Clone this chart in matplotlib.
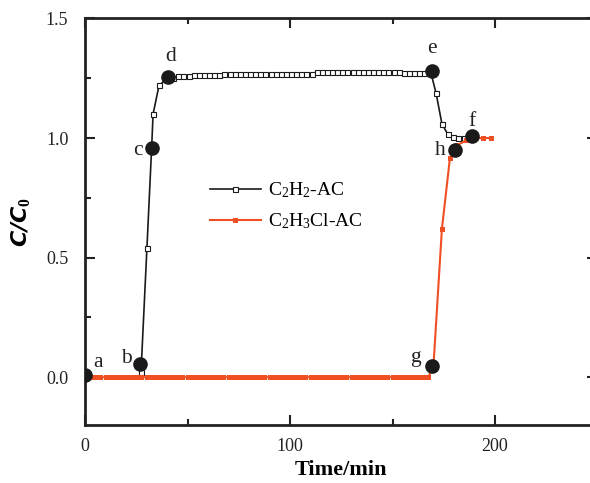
import matplotlib.pyplot as plt
from matplotlib.ticker import MultipleLocator

plt.rcParams["font.family"] = "Liberation Serif"
plt.rcParams["mathtext.fontset"] = "custom"
plt.rcParams["mathtext.rm"] = "Liberation Serif"
plt.rcParams["mathtext.it"] = "Liberation Serif:italic"
plt.rcParams["mathtext.bf"] = "Liberation Serif:bold"

# C2H2 breakthrough (black, open squares)
c2h2_t = [27.3,
          30.2, 32.5, 33.2, 36.1, 39.5,
          43, 45.5, 48, 50.5, 53, 55.5, 58, 60.5, 63, 65.5, 68, 70.5, 73, 75.5,
          78, 80.5, 83, 85.5, 88, 90.5, 93, 95.5, 98, 100.5, 103, 105.5, 108,
          110.5, 113, 115.5, 118, 120.5, 123, 125.5, 128, 130.5, 133, 135.5,
          138, 140.5, 143, 145.5, 148, 150.5, 153, 155.5, 158, 160.5, 163,
          165.5, 168.5, 171.2, 174.1, 177, 179.5, 182, 185, 188]
c2h2_y = [0.02,
          0.54, 0.96, 1.10, 1.22, 1.245,
          1.25, 1.26, 1.26, 1.26, 1.262, 1.262, 1.263, 1.265, 1.265, 1.265,
          1.268, 1.268, 1.268, 1.268, 1.268, 1.268, 1.268, 1.268, 1.268,
          1.268, 1.268, 1.268, 1.268, 1.268, 1.268, 1.268, 1.268, 1.27,
          1.276, 1.277, 1.277, 1.277, 1.277, 1.277, 1.277, 1.277, 1.277,
          1.277, 1.277, 1.277, 1.277, 1.277, 1.277, 1.277, 1.277, 1.272,
          1.272, 1.272, 1.272, 1.272, 1.28, 1.19, 1.06, 1.015, 1.005, 1.0,
          1.0, 1.01]

# C2H3Cl breakthrough (orange, filled squares)
c2h3cl_t = [0, 2.5, 5, 7.5, 10, 12.5, 15, 17.5, 20, 22.5, 25, 27.5, 30,
            32.5, 35, 37.5, 40, 42.5, 45, 47.5, 50, 52.5, 55, 57.5, 60, 62.5,
            65, 67.5, 70, 72.5, 75, 77.5, 80, 82.5, 85, 87.5, 90, 92.5, 95,
            97.5, 100, 102.5, 105, 107.5, 110, 112.5, 115, 117.5, 120, 122.5,
            125, 127.5, 130, 132.5, 135, 137.5, 140, 142.5, 145, 147.5, 150,
            152.5, 155, 157.5, 160, 162.5, 165, 167.5,
            170, 174.1, 178, 181.5, 186, 190, 194, 198]
c2h3cl_y = [0] * 68 + [0.05, 0.62, 0.915, 0.97, 0.99, 1.0, 1.0, 1.0]

# labelled points
pt_lbl = ["a", "b", "c", "d", "e", "f", "g", "h"]
pt_t = [0, 26.8, 32.7, 40.5, 169.3, 189, 169.3, 180.5]
pt_y = [0.01, 0.055, 0.96, 1.256, 1.28, 1.01, 0.046, 0.95]
lbl_off = [(9, 9), (-10, 4), (-10, -2), (2, 15), (0, 16), (0, 10), (-12, 6), (-11, 0)]

orange = "#F04E23"

fig = plt.figure(figsize=(5.9, 4.83), dpi=100)
ax = fig.add_axes([0.1441, 0.120, 0.8686, 0.8417])

ax.plot(c2h2_t, c2h2_y, color="#1a1a1a", lw=1.2, marker="s", ms=3.6,
        mfc="white", mec="#1a1a1a", mew=0.8, label=r"C$_2$H$_2$-AC", zorder=3)
ax.plot(c2h3cl_t, c2h3cl_y, color=orange, lw=1.5, marker="s", ms=3.6,
        mfc=orange, mec=orange, mew=0, label=r"C$_2$H$_3$Cl-AC", zorder=4)

ax.plot(pt_t, pt_y, "o", color="#1a1a1a", ms=9.5, zorder=5)
for lbl, t, y, off in zip(pt_lbl, pt_t, pt_y, lbl_off):
    ax.annotate(lbl, (t, y), xytext=off, textcoords="offset points",
                ha="center", va="center", fontsize=15.5, color="#222222")

ax.set_xlim(0, 250)
ax.set_ylim(-0.2, 1.5)
ax.xaxis.set_major_locator(MultipleLocator(100))
ax.xaxis.set_minor_locator(MultipleLocator(50))
ax.yaxis.set_minor_locator(MultipleLocator(0.25))
ax.set_yticks([0, 0.5, 1.0, 1.5])
ax.set_yticklabels(["0.0", "0.5", "1.0", "1.5"])
ax.tick_params(which="both", direction="in", top=True, right=True,
               labelsize=13, width=1.5, colors="#222222")
ax.tick_params(which="major", length=7)
ax.tick_params(axis="y", which="major", pad=12)
ax.tick_params(axis="x", which="major", pad=9)
ax.tick_params(which="minor", length=4)
for s in ax.spines.values():
    s.set_linewidth(2)
    s.set_color("#222222")

ax.set_xlabel("Time/min", fontsize=16, fontweight="bold", labelpad=4)
ax.set_ylabel(r"$\mathbfit{C/C}_\mathbf{0}$", fontsize=16, labelpad=10)

ax.legend(loc="upper left", bbox_to_anchor=(0.21, 0.645), frameon=False,
          fontsize=14, handlelength=2.6, handletextpad=0.4, labelspacing=0.6)

fig.savefig("out.png", dpi=100)
